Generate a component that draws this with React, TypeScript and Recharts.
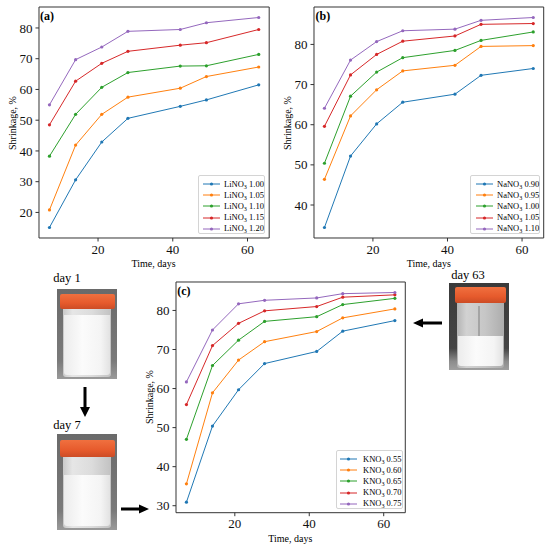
import React from 'react';
import { LineChart, Line, XAxis, YAxis, ReferenceArea } from 'recharts';

// sampling days (shared by all three panels)
const days = [7, 14, 21, 28, 42, 49, 63];

// (a) LiNO3
const li100 = [15.1, 30.6, 42.9, 50.6, 54.5, 56.6, 61.5];
const li105 = [20.8, 41.9, 51.9, 57.5, 60.4, 64.2, 67.3];
const li110 = [38.3, 51.9, 60.7, 65.5, 67.6, 67.7, 71.4];
const li115 = [48.5, 62.7, 68.5, 72.4, 74.4, 75.2, 79.5];
const li120 = [55.0, 69.7, 73.8, 78.9, 79.5, 81.7, 83.4];

// (b) NaNO3
const na090 = [34.4, 52.2, 60.2, 65.6, 67.6, 72.3, 74.0];
const na095 = [46.4, 62.2, 68.7, 73.4, 74.8, 79.5, 79.7];
const na100 = [50.4, 67.1, 73.1, 76.7, 78.5, 81.0, 83.1];
const na105 = [59.6, 72.4, 77.5, 80.8, 82.1, 85.0, 85.2];
const na110 = [64.1, 76.1, 80.7, 83.4, 83.8, 86.0, 86.7];

// (c) KNO3
const k055 = [30.9, 50.4, 59.7, 66.4, 69.5, 74.7, 77.4];
const k060 = [35.6, 58.9, 67.3, 72.0, 74.6, 78.1, 80.4];
const k065 = [47.0, 65.9, 72.4, 77.2, 78.4, 81.5, 83.1];
const k070 = [55.9, 71.0, 76.7, 79.9, 81.0, 83.4, 84.0];
const k075 = [61.7, 75.0, 81.7, 82.6, 83.2, 84.3, 84.6];

const liLabels = ['1.00', '1.05', '1.10', '1.15', '1.20'];
const naLabels = ['0.90', '0.95', '1.00', '1.05', '1.10'];
const kLabels = ['0.55', '0.60', '0.65', '0.70', '0.75'];

const dayTicks = [20, 40, 60];
const liTicks = [20, 30, 40, 50, 60, 70, 80];
const naTicks = [40, 50, 60, 70, 80];
const kTicks = [30, 40, 50, 60, 70, 80];

const colors = ['#1f77b4', '#ff7f0e', '#2ca02c', '#d62728', '#9467bd'];
const SERIF = '"Liberation Serif", "DejaVu Serif", serif';

// matplotlib-style 5% padding around the data
function pad(values: number[]): [number, number] {
  const lo = Math.min(...values);
  const hi = Math.max(...values);
  const m = (hi - lo) * 0.05;
  return [lo - m, hi + m];
}

type Box = { x: number; y: number; w: number; h: number };

type PanelProps = {
  letter: string;
  salt: string;
  labels: string[];
  series: number[][];
  yTicks: number[];
  plot: Box;
  legend: Box & { lineX: number; textX: number };
};

function Salt({ salt, label }: { salt: string; label: string }) {
  return (
    <span>
      {salt}NO<span style={{ fontSize: '0.72em', verticalAlign: '-0.3em' }}>3</span> {label}
    </span>
  );
}

function Panel({ letter, salt, labels, series, yTicks, plot, legend }: PanelProps) {
  const rows = days.map((d, i) => {
    const r: Record<string, number> = { day: d };
    series.forEach((s, k) => {
      r['s' + k] = s[i];
    });
    return r;
  });
  const [x0, x1] = pad(days);
  const [y0, y1] = pad(series.flat());
  const L = 44;
  const T = 6;
  const R = 6;
  const B = 34;
  const tickStyle = { fontSize: 13, fill: '#111', fontFamily: SERIF };

  return (
    <>
      <div style={{ position: 'absolute', left: plot.x - L, top: plot.y - T }}>
        <LineChart
          width={plot.w + L + R}
          height={plot.h + T + B}
          data={rows}
          margin={{ top: T, right: R, bottom: 0, left: 0 }}
        >
          <XAxis
            dataKey="day"
            type="number"
            domain={[x0, x1]}
            ticks={dayTicks}
            allowDataOverflow
            height={B}
            axisLine={false}
            tickSize={3.5}
            tickMargin={3}
            tickLine={{ stroke: '#333' }}
            tick={tickStyle}
          />
          <YAxis
            type="number"
            domain={[y0, y1]}
            ticks={yTicks}
            allowDataOverflow
            width={L}
            axisLine={false}
            tickSize={3.5}
            tickMargin={3}
            tickLine={{ stroke: '#333' }}
            tick={tickStyle}
          />
          <ReferenceArea
            x1={x0}
            x2={x1}
            y1={y0}
            y2={y1}
            fill="none"
            stroke="#333"
            strokeWidth={1}
            ifOverflow="visible"
          />
          {series.map((_, k) => (
            <Line
              key={k}
              type="linear"
              dataKey={'s' + k}
              stroke={colors[k]}
              strokeWidth={1}
              dot={{ r: 1.6, fill: colors[k], stroke: colors[k], strokeWidth: 0 }}
              activeDot={false}
              isAnimationActive={false}
            />
          ))}
        </LineChart>
      </div>

      <div
        style={{
          position: 'absolute',
          left: plot.x + 1.5,
          top: plot.y + 2,
          fontFamily: SERIF,
          fontWeight: 'bold',
          fontSize: 12,
          lineHeight: '14px',
        }}
      >
        ({letter})
      </div>

      <div
        style={{
          position: 'absolute',
          left: plot.x - 27,
          top: plot.y + plot.h / 2,
          transform: 'translate(-50%, -50%) rotate(-90deg)',
          fontFamily: SERIF,
          fontSize: 10,
          whiteSpace: 'nowrap',
        }}
      >
        Shrinkage, %
      </div>

      <div
        style={{
          position: 'absolute',
          left: plot.x + plot.w / 2,
          top: plot.y + plot.h + 25,
          transform: 'translate(-50%, -50%)',
          fontFamily: SERIF,
          fontSize: 10,
          whiteSpace: 'nowrap',
        }}
      >
        Time, days
      </div>

      <div
        style={{
          position: 'absolute',
          left: legend.x,
          top: legend.y,
          width: legend.w,
          height: legend.h,
          boxSizing: 'border-box',
          border: '1px solid #d4d4d4',
          borderRadius: 2,
          background: 'rgba(255,255,255,0.85)',
        }}
      >
        {labels.map((lab, k) => {
          const cy = 8 + k * 11.2;
          return (
            <div key={k}>
              <svg
                width={18}
                height={6}
                style={{ position: 'absolute', left: legend.lineX - legend.x, top: cy - 3 }}
              >
                <line x1={0} y1={3} x2={17} y2={3} stroke={colors[k]} strokeWidth={1} />
                <circle cx={8.5} cy={3} r={1.6} fill={colors[k]} />
              </svg>
              <div
                style={{
                  position: 'absolute',
                  left: legend.textX - legend.x,
                  top: cy - 5.5,
                  fontFamily: SERIF,
                  fontSize: 8.5,
                  lineHeight: '10px',
                  whiteSpace: 'nowrap',
                }}
              >
                <Salt salt={salt} label={lab} />
              </div>
            </div>
          );
        })}
      </div>
    </>
  );
}

type JarProps = {
  x: number;
  y: number;
  w: number;
  h: number;
  cap: Box;
  body: Box;
  fillTop: number;
  bg: string;
  glass: string;
  rod?: boolean;
};

function Jar({ x, y, w, h, cap, body, fillTop, bg, glass, rod }: JarProps) {
  return (
    <div style={{ position: 'absolute', left: x, top: y, width: w, height: h, background: bg, overflow: 'hidden' }}>
      <div
        style={{
          position: 'absolute',
          left: body.x,
          top: body.y,
          width: body.w,
          height: body.h,
          background: glass,
          borderRadius: '0 0 3px 3px',
        }}
      />
      {rod && (
        <div
          style={{
            position: 'absolute',
            left: body.x + body.w * 0.45,
            top: body.y + 3,
            width: 2,
            height: fillTop - body.y - 3,
            background: '#a4a4a4',
          }}
        />
      )}
      <div
        style={{
          position: 'absolute',
          left: body.x + 1,
          top: fillTop,
          width: body.w - 2,
          height: body.y + body.h - fillTop - 2,
          background: 'linear-gradient(90deg, #ececec 0%, #fbfbfb 40%, #f4f4f4 80%, #e2e2e2 100%)',
          borderRadius: '0 0 3px 3px',
        }}
      />
      <div
        style={{
          position: 'absolute',
          left: cap.x,
          top: cap.y,
          width: cap.w,
          height: cap.h,
          background: 'linear-gradient(180deg, #f0703f 0%, #e65a2c 60%, #cc4c25 100%)',
          borderRadius: 2,
        }}
      />
    </div>
  );
}

function DayText({ x, y, text }: { x: number; y: number; text: string }) {
  return (
    <div
      style={{
        position: 'absolute',
        left: x,
        top: y,
        transform: 'translate(-50%, -50%)',
        fontFamily: SERIF,
        fontSize: 12.5,
        whiteSpace: 'nowrap',
      }}
    >
      {text}
    </div>
  );
}

const lightGlass = 'linear-gradient(90deg, #c9c9c9 0%, #e6e6e6 20%, #dcdcdc 60%, #c2c2c2 100%)';
const darkGlass = 'linear-gradient(90deg, #b4b4b4 0%, #d2d2d2 20%, #c6c6c6 60%, #adadad 100%)';

export default function App() {
  return (
    <div
      style={{
        position: 'absolute',
        left: 0,
        top: 0,
        width: 550,
        height: 548,
        background: '#fff',
        overflow: 'hidden',
      }}
    >
      <Panel
        letter="a"
        salt="Li"
        labels={liLabels}
        series={[li100, li105, li110, li115, li120]}
        yTicks={liTicks}
        plot={{ x: 38.5, y: 7, w: 230.2, h: 231 }}
        legend={{ x: 198, y: 175, w: 67, h: 59, lineX: 202, textX: 223 }}
      />
      <Panel
        letter="b"
        salt="Na"
        labels={naLabels}
        series={[na090, na095, na100, na105, na110]}
        yTicks={naTicks}
        plot={{ x: 314, y: 7, w: 229.7, h: 231 }}
        legend={{ x: 470, y: 175, w: 70, h: 59, lineX: 475, textX: 496 }}
      />
      <Panel
        letter="c"
        salt="K"
        labels={kLabels}
        series={[k055, k060, k065, k070, k075]}
        yTicks={kTicks}
        plot={{ x: 175.7, y: 282, w: 229.3, h: 230.7 }}
        legend={{ x: 335.5, y: 450, w: 67.5, h: 58.5, lineX: 338.5, textX: 362 }}
      />

      <DayText x={67} y={278} text="day 1" />
      <DayText x={67} y={425} text="day 7" />
      <DayText x={468} y={275} text="day 63" />

      <Jar
        x={57}
        y={289}
        w={60}
        h={90}
        bg="linear-gradient(180deg, #6a6a6a 0%, #7a7a7a 80%, #9a9a9a 100%)"
        glass={lightGlass}
        cap={{ x: 3, y: 5, w: 55, h: 15 }}
        body={{ x: 6, y: 20, w: 48, h: 68 }}
        fillTop={26}
      />
      <Jar
        x={57}
        y={434}
        w={60}
        h={96}
        bg="linear-gradient(180deg, #6a6a6a 0%, #7a7a7a 80%, #9a9a9a 100%)"
        glass={lightGlass}
        cap={{ x: 3, y: 6, w: 55, h: 17 }}
        body={{ x: 6, y: 23, w: 48, h: 71 }}
        fillTop={41}
      />
      <Jar
        x={449}
        y={283}
        w={60}
        h={87}
        bg="linear-gradient(180deg, #3a3a3a 0%, #444 75%, #8c8c8c 90%, #a0a0a0 100%)"
        glass={darkGlass}
        cap={{ x: 6, y: 4, w: 51, h: 16 }}
        body={{ x: 8, y: 20, w: 47, h: 65 }}
        fillTop={53}
        rod
      />

      <svg width={550} height={548} style={{ position: 'absolute', left: 0, top: 0, pointerEvents: 'none' }}>
        {/* day 1 -> day 7 */}
        <polygon points="83.5,387 86.5,387 86.5,407 90,407 85,417 80,407 83.5,407" fill="#000" />
        {/* day 7 -> panel c */}
        <polygon points="121,507.5 139,507.5 139,504.5 149,509 139,513.5 139,510.5 121,510.5" fill="#000" />
        {/* panel c -> day 63 */}
        <polygon points="442,321.5 423,321.5 423,318.5 413,323 423,327.5 423,324.5 442,324.5" fill="#000" />
      </svg>
    </div>
  );
}
